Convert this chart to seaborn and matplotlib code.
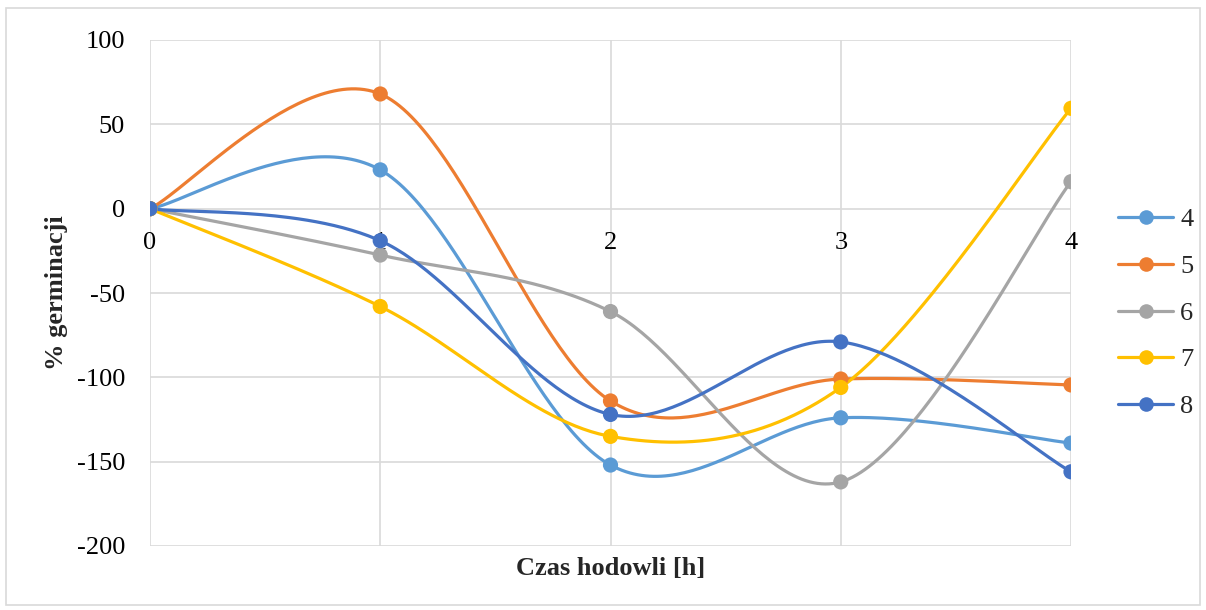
import numpy as np
import pandas as pd
import matplotlib
matplotlib.use("Agg")
import matplotlib.pyplot as plt
from matplotlib.lines import Line2D
from matplotlib.patches import Rectangle
import seaborn as sns

# ---- data ----
hours = [0, 1, 2, 3, 4]
s4 = [0, 23, -152, -124, -139]
s5 = [0, 68, -114, -101, -104.5]
s6 = [0, -27.5, -61, -162, 16]
s7 = [0, -58, -135, -106, 59.5]
s8 = [0, -19, -122, -79, -156]
series_names = ["4", "5", "6", "7", "8"]
series_values = [s4, s5, s6, s7, s8]
colors = ["#5B9BD5", "#ED7D31", "#A5A5A5", "#FFC000", "#4472C4"]
y_ticks = [100, 50, 0, -50, -100, -150, -200]


def excel_smooth(xs, ys, n=60):
    """Excel-style smoothed line (cardinal Bezier, tension 1/6)."""
    P = np.column_stack([xs, ys]).astype(float)
    m = len(P)
    out = []
    for i in range(m - 1):
        p0 = P[max(i - 1, 0)]
        p1 = P[i]
        p2 = P[i + 1]
        p3 = P[min(i + 2, m - 1)]
        c1 = p1 + (p2 - p0) / 6.0
        c2 = p2 - (p3 - p1) / 6.0
        t = np.linspace(0, 1, n)[:, None]
        seg = ((1 - t) ** 3) * p1 + 3 * ((1 - t) ** 2) * t * c1 + 3 * (1 - t) * t ** 2 * c2 + t ** 3 * p2
        if i > 0:
            seg = seg[1:]
        out.append(seg)
    out = np.vstack(out)
    return out[:, 0], out[:, 1]


rows_line = []
rows_pts = []
for name, vals in zip(series_names, series_values):
    sx, sy = excel_smooth(hours, vals)
    for k, (a, b) in enumerate(zip(sx, sy)):
        rows_line.append({"series": name, "order": k, "x": a, "y": b})
    for a, b in zip(hours, vals):
        rows_pts.append({"series": name, "x": a, "y": b})
df_line = pd.DataFrame(rows_line)
df_pts = pd.DataFrame(rows_pts)

sns.set_theme(style="white")
plt.rcParams["font.family"] = ["Liberation Serif", "DejaVu Serif"]
plt.rcParams["axes.unicode_minus"] = False

FS = 19

fig = plt.figure(figsize=(12.06, 6.10), dpi=100)
ax = fig.add_axes([150 / 1206, 1 - 546 / 610, (1071 - 150) / 1206, (546 - 40) / 610])

palette = dict(zip(series_names, colors))
for name in series_names:
    d = df_line[df_line.series == name]
    sns.lineplot(data=d, x="x", y="y", sort=False, estimator=None, color=palette[name],
                 linewidth=2.3, ax=ax, legend=False, zorder=3)
    p = df_pts[df_pts.series == name]
    sns.scatterplot(data=p, x="x", y="y", color=palette[name], s=120, edgecolor="none",
                    ax=ax, legend=False, zorder=4)

ax.set_xlim(0, 4)
ax.set_ylim(-200, 100)
ax.set_yticks(y_ticks)
ax.set_yticklabels([str(v) for v in y_ticks])
ax.set_xticks(hours)
ax.set_xticklabels([str(h) for h in hours])
ax.grid(True, color="#d9d9d9", linewidth=1.2)
ax.set_axisbelow(True)
for sp in ax.spines.values():
    sp.set_visible(False)
ax.spines["bottom"].set_position(("data", 0))
ax.tick_params(axis="both", length=0, labelsize=FS, colors="black")
ax.tick_params(axis="x", pad=17)
ax.tick_params(axis="y", pad=18)
ax.set_xlabel("")
ax.set_ylabel("")
for lab in ax.get_xticklabels() + ax.get_yticklabels():
    lab.set_zorder(5)

fig.text((150 + 1071) / 2 / 1206, 1 - 568 / 610, "Czas hodowli [h]", ha="center", va="center",
         fontsize=FS, fontweight="bold")
fig.text(57 / 1206, 1 - 293 / 610, "% germinacji", ha="center", va="center", rotation=90,
         fontsize=FS, fontweight="bold")

handles = [Line2D([0], [0], color=c, linewidth=2.3, marker="o", markersize=10.5,
                  markeredgewidth=0) for c in colors]
fig.legend(handles, series_names, loc="center left", bbox_to_anchor=(1118 / 1206, 1 - 313 / 610),
           frameon=False, fontsize=FS, handlelength=2.1, handletextpad=0.25, labelspacing=0.88,
           borderaxespad=0, borderpad=0)

fig.patches.append(Rectangle((6 / 1206, 1 - 605 / 610), (1200 - 6) / 1206, (605 - 8) / 610,
                             transform=fig.transFigure, fill=False, edgecolor="#d9d9d9",
                             linewidth=1.2))

fig.savefig("out.png", dpi=100)
